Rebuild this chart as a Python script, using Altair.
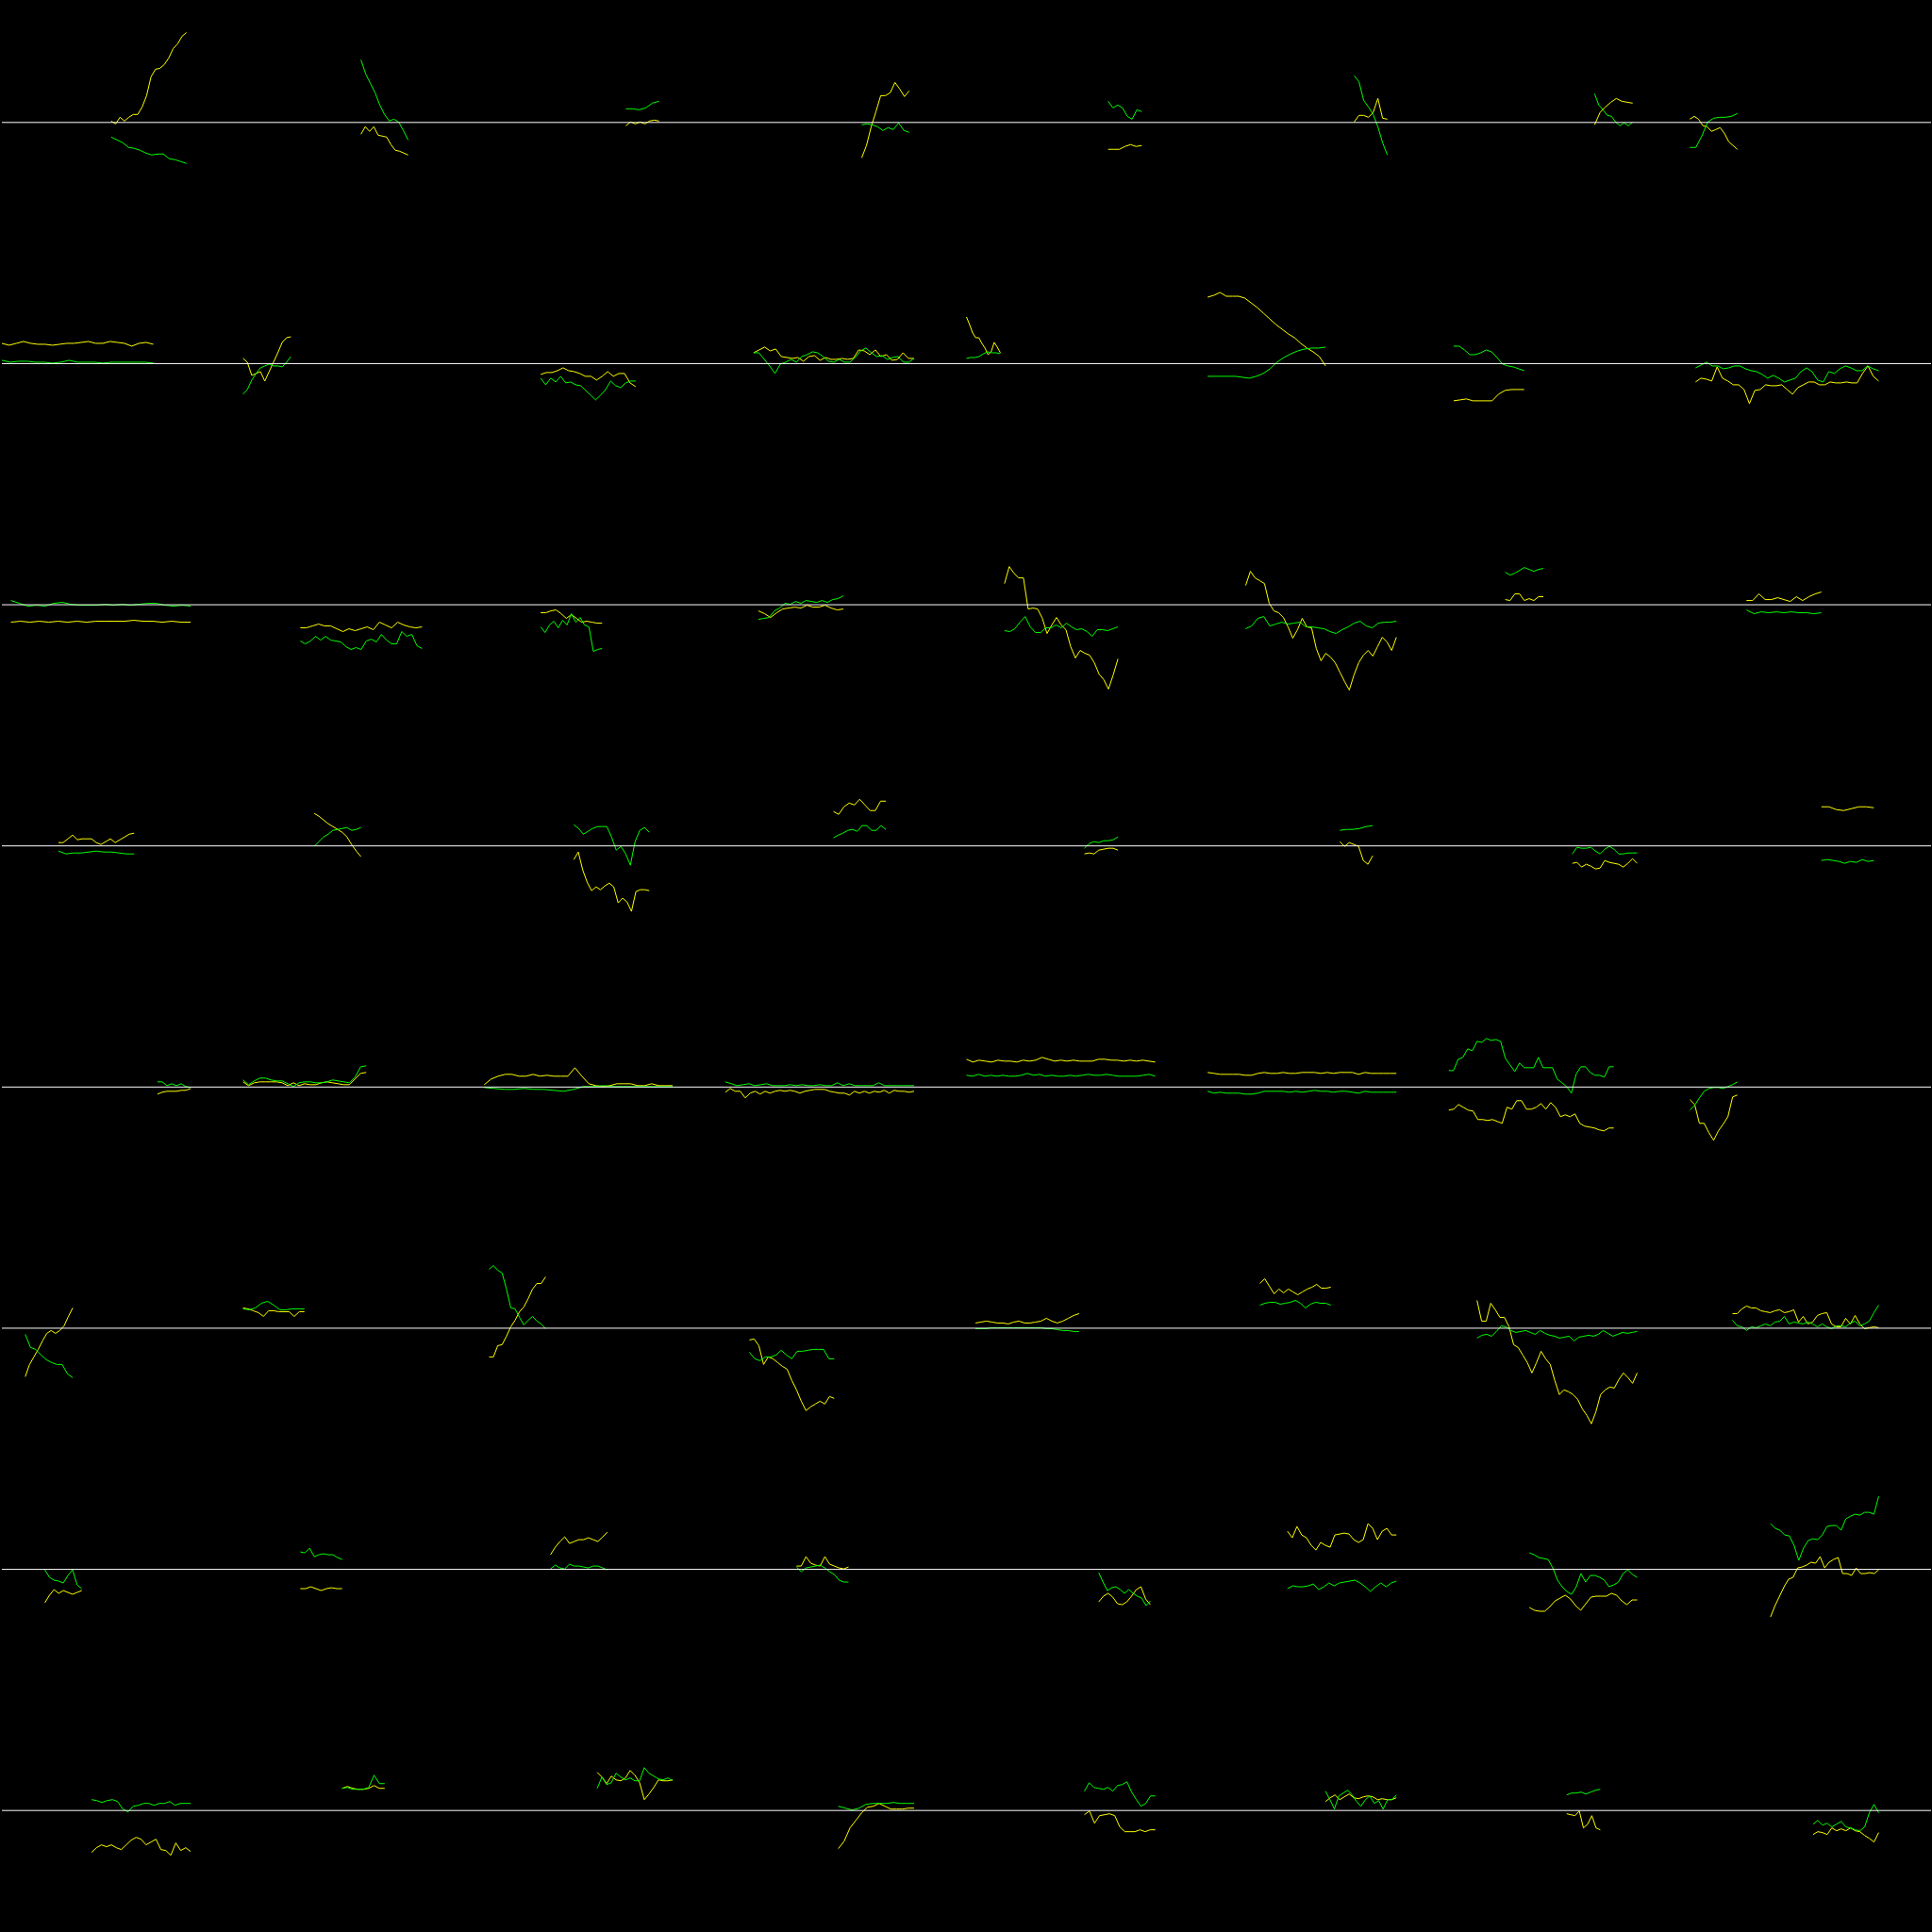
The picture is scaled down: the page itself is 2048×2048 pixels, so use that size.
import altair as alt
import pandas as pd

# Each cell: time span (start, end) on a 0..64 axis, and yellow / green series
# values are offsets from the cell's baseline (positive = up)

SPAN_R0 = [(29, 49), (31.3, 43.8), (37.6, 46.4), (36.2, 48.8), (37.6, 46.5), (38.9, 47.7), (38.7, 48.8), (0, 12.6)]
YEL_R0 = [
    [1, -2, 5, 1, 5, 8, 8, 16, 28, 48, 56, 57, 61, 68, 78, 83, 91, 95],
    [-13, -5, -10, -5, -14, -15, -16, -24, -30, -31, -33, -35],
    [-4, 0, -2, 0, -2, 1, 2, 1],
    [-38, -25, -5, 11, 28, 28, 31, 42, 35, 27, 33],
    [-29, -29, -29, -26, -24, -26, -25],
    [0, 7, 7, 5, 10, 25, 4, 3],
    [-3, 10, 16, 21, 25, 22, 21, 20],
    [3, 6, 3, -4, -5, -10, -8, -6, -12, -21, -25, -29],
]
GRN_R0 = [
    [-16, -19, -22, -27, -28, -30, -33, -35, -34, -34, -39, -40, -42, -44],
    [66, 51, 41, 31, 18, 8, 1, 3, 0, -9, -19],
    [14, 14, 13, 15, 20, 22],
    [-3, -2, -3, -5, -9, -6, -8, -1, -9, -11],
    [22, 15, 18, 15, 6, 3, 13, 11],
    [49, 43, 23, 16, 8, -5, -22, -35],
    [30, 18, 13, 7, 6, 0, -4, -1, -4, 0],
    [-27, -27, -15, 0, 4, 5, 5, 6, 9],
]

SPAN_R1 = [(0, 40.2), (0, 12.7), (15, 40.2), (7.5, 50.1), (0, 9), (0, 31.3), (1.3, 20), (1.5, 50.1)]
YEL_R1 = [
    [21, 19, 21, 23, 21, 20, 20, 19, 20, 21, 21, 22, 23, 21, 21, 23, 22, 21, 18, 21, 22, 20],
    [5, 1, -13, -11, -9, -19, -9, 1, 11, 22, 27, 28],
    [-12, -10, -10, -8, -5, -8, -9, -11, -14, -14, -18, -14, -9, -14, -11, -11, -21, -25],
    [11, 14, 17, 13, 15, 7, 6, 5, 6, 2, 7, 8, 3, 6, 4, 4, 5, 4, 5, 14, 13, 9, 14, 7, 9, 3, 4, 11, 5, 5],
    [49, 41, 32, 27, 27, 21, 16, 9, 12, 22, 17, 11],
    [70, 72, 75, 71, 71, 71, 69, 64, 59, 53, 47, 41, 36, 31, 27, 21, 16, 12, 7, -3],
    [-40, -39, -38, -40, -40, -40, -40, -33, -29, -28, -28, -28],
    [-20, -16, -17, -19, -4, -16, -19, -23, -23, -28, -43, -29, -28, -23, -24, -24, -23, -28, -33, -26,
     -23, -20, -20, -23, -23, -20, -21, -21, -20, -21, -21, -11, -3, -14, -19],
]
GRN_R1 = [
    [3, 1, 2, 2, 1, 1, 0, 1, 3, 1, 1, 1, 0, 1, 1, 1, 1, 1, 0],
    [-33, -28, -18, -11, -5, -3, -1, -3, -3, -4, 1, 7],
    [-16, -23, -16, -20, -14, -21, -20, -23, -24, -29, -34, -39, -34, -28, -19, -24, -26, -21, -19, -19],
    [11, 11, 4, -3, -11, -1, 1, 4, 1, 7, 9, 12, 11, 7, 2, 1, 4, 1, 1, 6, 13, 16, 11, 7, 8, 4, 6, 7, 1, 1, 5],
    [5, 6, 6, 7, 10, 12, 11, 11, 10],
    [-14, -14, -14, -14, -14, -15, -16, -14, -11, -6, 1, 6, 10, 13, 15, 16, 16, 17],
    [18, 18, 14, 9, 9, 11, 14, 12, 6, -1, -3, -4, -6, -8],
    [-5, -2, 1, -3, -3, -6, -5, -3, -3, -6, -8, -9, -12, -16, -13, -16, -20, -18, -16, -9, -5, -9, -18,
     -20, -9, -11, -6, -3, -5, -8, -8, -3, -6, -8],
]

SPAN_R2 = [(2.4, 50.1), (15.2, 47.5), (15, 31.3), (8.8, 31.3), (10.1, 40.2), (10.1, 50.1), (15, 25.1), (15, 34.9)]
YEL_R2 = [
    [-19, -18, -19, -18, -19, -18, -19, -18, -19, -18, -18, -18, -18, -17, -18, -18, -19, -18, -19, -19],
    [-25, -25, -23, -21, -23, -23, -26, -29, -26, -28, -26, -24, -27, -19, -22, -25, -19, -22, -24, -25, -24],
    [-9, -9, -7, -6, -10, -15, -11, -15, -19, -18, -19, -20, -20],
    [-7, -10, -14, -9, -5, -4, -3, -4, -1, -3, -3, -1, -4, -6, -5],
    [22, 40, 33, 28, 28, -5, -4, -5, -15, -31, -22, -14, -22, -27, -45, -57, -49, -52, -54, -62, -74, -80,
     -90, -75, -58],
    [20, 35, 28, 25, 22, 1, -7, -9, -14, -24, -36, -27, -15, -24, -25, -47, -60, -52, -56, -62, -72, -82,
     -91, -75, -62, -54, -49, -55, -45, -35, -40, -49, -35],
    [5, 4, 11, 11, 4, 6, 4, 8, 8],
    [4, 4, 11, 5, 5, 7, 5, 3, 8, 4, 8, 11, 13],
]
GRN_R2 = [
    [4, 1, -2, -1, -2, 1, 2, 0, -1, -1, -1, 0, -1, 0, -1, 0, 1, 1, -1, -2, -1, -2],
    [-39, -42, -39, -34, -38, -34, -38, -39, -40, -45, -48, -46, -48, -39, -37, -40, -32, -38, -42, -42,
     -29, -34, -32, -44, -47],
    [-24, -30, -22, -18, -25, -17, -22, -10, -19, -14, -22, -24, -50, -48, -47],
    [-16, -15, -14, -7, -4, 1, 0, 3, 1, 4, 3, 2, 4, 2, 5, 6, 9],
    [-28, -29, -26, -19, -13, -24, -30, -30, -25, -25, -22, -25, -20, -24, -27, -26, -29, -34, -27, -27,
     -28, -26, -24],
    [-26, -23, -15, -13, -23, -21, -19, -21, -20, -19, -24, -24, -25, -26, -29, -31, -27, -24, -20, -18,
     -23, -25, -20, -19, -19, -18],
    [34, 31, 33, 36, 39, 37, 35, 37, 38],
    [-6, -10, -8, -9, -8, -9, -8, -9, -9, -10, -9],
]

SPAN_R3 = [(15, 35.1), (18.9, 31.3), (23.8, 43.8), (28.7, 42.6), (31.3, 40.2), (35.1, 43.8), (32.8, 50), (34.9, 48.8)]
YEL_R3 = [
    [3, 3, 7, 11, 6, 7, 7, 7, 3, 1, 4, 7, 3, 6, 9, 12, 13],
    [34, 31, 27, 23, 20, 17, 14, 9, 1, -6, -12],
    [-15, -7, -26, -39, -48, -44, -47, -43, -40, -44, -61, -56, -60, -70, -49, -47, -47, -48],
    [36, 33, 41, 45, 43, 49, 43, 37, 37, 47, 47],
    [-9, -8, -9, -5, -4, -3, -3, -5],
    [4, -1, 3, 1, -1, -16, -20, -11],
    [-19, -18, -23, -20, -22, -25, -24, -16, -18, -19, -20, -23, -19, -14, -19],
    [41, 41, 38, 37, 39, 41, 41, 40],
]
GRN_R3 = [
    [-6, -9, -8, -8, -7, -6, -7, -7, -8, -9, -9],
    [-1, 4, 9, 12, 16, 17, 18, 19, 16, 17, 19],
    [22, 18, 12, 15, 18, 20, 20, 20, 9, -5, -1, -9, -21, 4, 16, 19, 14],
    [8, 11, 13, 16, 17, 15, 21, 21, 16, 16, 21, 17],
    [-3, 2, 4, 3, 5, 5, 6, 9],
    [16, 17, 17, 18, 20, 21],
    [-9, -2, -3, -3, -2, -6, -9, -4, -1, -4, -9, -9, -8, -8, -8],
    [-16, -15, -16, -17, -19, -17, -18, -15, -17, -16],
]

SPAN_R4 = [(41.3, 50.1), (0, 32.7), (0, 50), (0, 50.1), (0, 50.1), (0, 50.1), (0, 43.8), (0, 12.6)]
YEL_R4 = [
    [-8, -6, -5, -5, -5, -4, -4, -2],
    [5, 1, 4, 5, 5, 5, 5, 4, 1, 4, 1, 3, 2, 2, 4, 5, 4, 3, 2, 2, 8, 14, 15],
    [2, 8, 11, 13, 13, 11, 11, 13, 11, 12, 11, 11, 11, 20, 11, 3, 1, 0, 1, 3, 3, 3, 1, 1, 3, 1, 1, 1],
    [-6, -2, -5, -5, -12, -7, -5, -8, -5, -7, -5, -4, -5, -4, -5, -7, -5, -4, -3, -3, -3, -5, -6, -7, -7,
     -9, -5, -7, -5, -7, -5, -6, -4, -7, -4, -5, -5, -6, -5],
    [29, 26, 28, 27, 26, 28, 27, 27, 26, 28, 27, 28, 31, 29, 27, 28, 27, 28, 27, 27, 27, 29, 29, 28, 28,
     27, 28, 27, 28, 27, 26],
    [15, 14, 13, 13, 13, 13, 12, 12, 14, 15, 14, 14, 15, 14, 14, 15, 15, 15, 14, 15, 14, 15, 15, 15, 13,
     15, 14, 14, 14, 14, 14],
    [-25, -24, -19, -22, -25, -26, -35, -35, -36, -35, -37, -39, -22, -24, -15, -15, -24, -24, -22, -18,
     -24, -17, -22, -32, -30, -32, -29, -39, -42, -43, -44, -46, -47, -44, -44],
    [-14, -19, -39, -39, -49, -57, -47, -40, -32, -11, -9],
]
GRN_R4 = [
    [5, 5, 1, 3, 1, 3, 0, -1],
    [7, 2, 6, 9, 9, 7, 6, 6, 3, 0, 4, 5, 5, 4, 4, 5, 7, 6, 5, 4, 10, 21, 22],
    [-1, -2, -3, -3, -2, -3, -3, -4, -5, -3, 0, 0, 1, 0, 0, 0, 0, 0, 0, 0],
    [5, 3, 1, 2, 3, 1, 2, 3, 1, 1, 1, 2, 1, 2, 1, 1, 2, 1, 1, 4, 1, 3, 1, 1, 1, 1, 4, 1, 1, 1, 1, 1, 1],
    [12, 11, 13, 11, 12, 11, 12, 11, 11, 12, 14, 12, 13, 11, 12, 11, 11, 12, 11, 12, 13, 12, 12, 13, 12,
     11, 11, 11, 11, 12, 13, 11],
    [-5, -7, -6, -7, -7, -7, -8, -8, -7, -5, -5, -5, -5, -6, -5, -6, -5, -4, -5, -5, -6, -5, -5, -6, -7,
     -5, -6, -6, -6, -6, -6],
    [17, 17, 29, 31, 40, 38, 48, 47, 51, 49, 50, 48, 30, 23, 16, 25, 20, 20, 20, 31, 20, 20, 20, 8, 4, 0,
     -7, 13, 21, 21, 15, 12, 12, 10, 21, 21],
    [-25, -20, -12, -5, -2, -1, -1, -2, 0, 2, 5],
]

SPAN_R5 = [(6.2, 18.8), (0, 16.3), (1.3, 16.3), (6.4, 28.9), (2.4, 29.9), (13.9, 32.7), (7.5, 50), (11.3, 50.1)]
YEL_R5 = [
    [-52, -39, -31, -23, -14, -6, -3, -6, -3, 2, 12, 21],
    [21, 20, 18, 16, 12, 18, 18, 17, 17, 17, 12, 17, 17],
    [-31, -31, -19, -18, -9, 1, 8, 17, 22, 31, 41, 47, 47, 54],
    [-13, -12, -19, -39, -31, -33, -37, -41, -44, -56, -66, -78, -88, -84, -81, -78, -81, -73, -75],
    [5, 6, 7, 6, 5, 5, 4, 6, 7, 5, 5, 6, 7, 10, 7, 5, 7, 10, 13, 15],
    [47, 52, 44, 36, 41, 37, 41, 38, 35, 38, 41, 43, 46, 42, 42, 43],
    [29, 7, 7, 26, 19, 11, 11, 1, -18, -21, -29, -37, -48, -37, -25, -33, -39, -56, -71, -66, -68, -71,
     -76, -86, -93, -102, -89, -71, -66, -63, -64, -55, -48, -53, -59, -48],
    [15, 15, 20, 23, 21, 21, 18, 17, 16, 18, 19, 16, 17, 19, 6, 12, 4, 6, 13, 15, 16, 4, 1, 1, 10, 4, 13,
     4, -1, 0, 1, 0],
]
GRN_R5 = [
    [-7, -21, -23, -29, -34, -37, -39, -39, -49, -53],
    [20, 19, 21, 26, 28, 24, 19, 19, 20, 20, 20],
    [62, 66, 61, 58, 41, 21, 20, 11, 3, 8, 12, 7, 4, -1],
    [-26, -33, -35, -31, -31, -29, -24, -29, -33, -25, -25, -24, -23, -23, -23, -33, -33],
    [-1, -1, -1, 0, 0, 0, 0, 0, 0, 0, 0, 0, 0, -1, -1, -2, -3, -3, -4, -4],
    [24, 26, 27, 27, 25, 26, 27, 29, 26, 21, 25, 27, 26, 26, 24],
    [-11, -8, -7, -9, -4, 2, 1, -3, -5, -4, -3, -5, -7, -3, -6, -8, -9, -11, -10, -9, -14, -10, -9, -8,
     -9, -7, -3, -6, -9, -7, -5, -6, -5, -4],
    [8, 2, 1, -3, 1, 0, 2, 4, 2, 6, 7, 12, 4, 6, 5, 4, 6, 4, 1, 4, 1, -1, 2, 2, 1, 5, 7, 2, 4, 7, 16, 24],
]

SPAN_R6 = [(11.4, 21.2), (15.2, 26.3), (17.6, 32.7), (18.9, 32.7), (35.1, 48.8), (21.2, 50.1), (21.4, 50), (21.4, 50.1)]
YEL_R6 = [
    [-36, -28, -22, -26, -23, -25, -27, -25, -23],
    [-21, -21, -19, -21, -23, -21, -20, -21, -21],
    [15, 23, 29, 34, 27, 29, 31, 31, 33, 31, 29, 34, 39],
    [3, 3, 13, 6, 4, 3, 13, 5, 3, 1, 0, 2],
    [-35, -29, -26, -30, -37, -38, -35, -29, -22, -19, -32, -38],
    [40, 33, 45, 36, 33, 25, 20, 28, 25, 23, 36, 37, 38, 37, 31, 28, 31, 48, 43, 31, 40, 43, 36, 36],
    [-41, -44, -45, -45, -40, -34, -31, -28, -32, -39, -44, -37, -30, -29, -29, -29, -26, -28, -34, -38,
     -33, -33],
    [-51, -39, -29, -19, -11, -9, 1, 2, 4, 7, 6, 13, 1, 7, 10, 12, -5, -5, -7, 1, -5, -5, -4, -5, -1],
]
GRN_R6 = [
    [-1, -9, -12, -13, -15, -7, -1, -17, -21],
    [18, 17, 22, 13, 15, 16, 15, 15, 12, 10],
    [0, 4, 1, 0, 5, 3, 3, 2, 1, 3, 3, 1, -1],
    [2, -3, 1, 2, 3, 4, 1, -3, -6, -12, -14, -14],
    [-4, -14, -23, -20, -19, -22, -26, -22, -26, -29, -31, -39, -34],
    [-21, -18, -19, -19, -18, -16, -22, -19, -15, -18, -15, -14, -13, -12, -15, -19, -24, -19, -15, -19,
     -15, -13],
    [17, 15, 12, 11, 10, 1, -12, -19, -24, -27, -19, -5, -14, -7, -7, -9, -12, -19, -17, -14, -5, -1,
     -6, -9],
    [48, 43, 41, 36, 35, 25, 9, 22, 30, 32, 31, 36, 45, 46, 46, 41, 53, 56, 58, 57, 60, 60, 58, 77],
]

SPAN_R7 = [(23.8, 50.1), (26.3, 37.6), (30, 50), (30, 50.1), (31.3, 50.1), (31.3, 50.1), (31.3, 40.2), (32.7, 50.1)]
YEL_R7 = [
    [-45, -40, -37, -39, -37, -40, -42, -37, -32, -29, -31, -37, -34, -31, -42, -43, -48, -35, -43, -40, -44],
    [23, 25, 23, 22, 22, 23, 26, 23, 23],
    [40, 35, 28, 36, 32, 31, 34, 42, 37, 29, 11, 17, 24, 32, 31, 31, 32],
    [-41, -33, -19, -11, -3, 3, 4, 7, 4, 1, 1, 1, 2, 2],
    [-5, -1, -14, -6, -5, -4, -6, -18, -23, -23, -23, -21, -23, -21, -21],
    [9, 13, 16, 11, 14, 17, 13, 12, 14, 15, 14, 11, 12, 11, 11, 13],
    [-4, -5, -6, -1, -19, -15, -6, -19, -21],
    [-26, -23, -24, -26, -19, -22, -20, -22, -19, -22, -23, -27, -30, -34, -24],
]
GRN_R7 = [
    [11, 10, 8, 10, 11, 9, 1, -2, 4, 5, 7, 7, 5, 7, 7, 9, 5, 7, 7, 7],
    [23, 24, 22, 22, 22, 24, 37, 28, 28],
    [23, 35, 27, 29, 39, 35, 32, 34, 31, 31, 45, 39, 36, 33, 32, 34, 31],
    [4, 2, 0, 2, 6, 7, 7, 7, 8, 7, 7, 7],
    [20, 29, 24, 23, 22, 24, 20, 26, 27, 30, 19, 11, 4, 7, 15, 15],
    [20, 11, 1, 15, 18, 21, 16, 9, 4, 11, 15, 7, 10, 1, 11, 11, 16],
    [16, 18, 18, 19, 17, 19, 21, 22],
    [-15, -11, -16, -14, -18, -15, -12, -18, -19, -21, -22, -18, -3, 6, -3],
]

SPANS = [SPAN_R0, SPAN_R1, SPAN_R2, SPAN_R3, SPAN_R4, SPAN_R5, SPAN_R6, SPAN_R7]
YELLOW = [YEL_R0, YEL_R1, YEL_R2, YEL_R3, YEL_R4, YEL_R5, YEL_R6, YEL_R7]
GREEN = [GRN_R0, GRN_R1, GRN_R2, GRN_R3, GRN_R4, GRN_R5, GRN_R6, GRN_R7]

N_ROWS, N_COLS = 8, 8
CELL_T = 64      # time units per cell (x)
CELL_V = 256     # value units per cell (y)

rows = []
for r in range(N_ROWS):
    for c in range(N_COLS):
        t0, t1 = SPANS[r][c]
        for name, vals in (("yellow", YELLOW[r][c]), ("green", GREEN[r][c])):
            n = len(vals)
            for i, v in enumerate(vals):
                t = t0 + (t1 - t0) * i / (n - 1)
                rows.append({"row": r, "col": c, "cell": r * N_COLS + c, "series": name, "t": t, "v": v})
lines_df = pd.DataFrame(rows)
base_df = pd.DataFrame({"row": list(range(N_ROWS)), "v": [0] * N_ROWS})

xs = alt.Scale(domain=[0, N_COLS * CELL_T], nice=False, zero=False)
ys = alt.Scale(domain=[-(N_ROWS - 1) * CELL_V - CELL_V / 2, CELL_V / 2], nice=False, zero=False)

lines = alt.Chart(lines_df).transform_calculate(
    gx=f"datum.col * {CELL_T} + datum.t",
    gy=f"datum.v - datum.row * {CELL_V}",
).mark_line(strokeWidth=1).encode(
    x=alt.X("gx:Q", scale=xs, axis=None),
    y=alt.Y("gy:Q", scale=ys, axis=None),
    color=alt.Color("series:N",
                    scale=alt.Scale(domain=["yellow", "green"], range=["#ffff00", "#00ff00"]),
                    legend=None),
    detail="cell:N",
    order="t:Q",
)

rule = alt.Chart(base_df).transform_calculate(
    gy=f"datum.v - datum.row * {CELL_V}",
).mark_rule(color="#ffffff", strokeWidth=1, yOffset=0.5).encode(
    y=alt.Y("gy:Q", scale=ys, axis=None),
    x=alt.value(0),
    x2=alt.value(2048),
)

chart = alt.layer(lines, rule).properties(
    width=2048, height=2048, padding=0, background="#000000"
).configure_view(strokeWidth=0)

chart.save("out.html", embed_options={"renderer": "svg", "actions": False})
